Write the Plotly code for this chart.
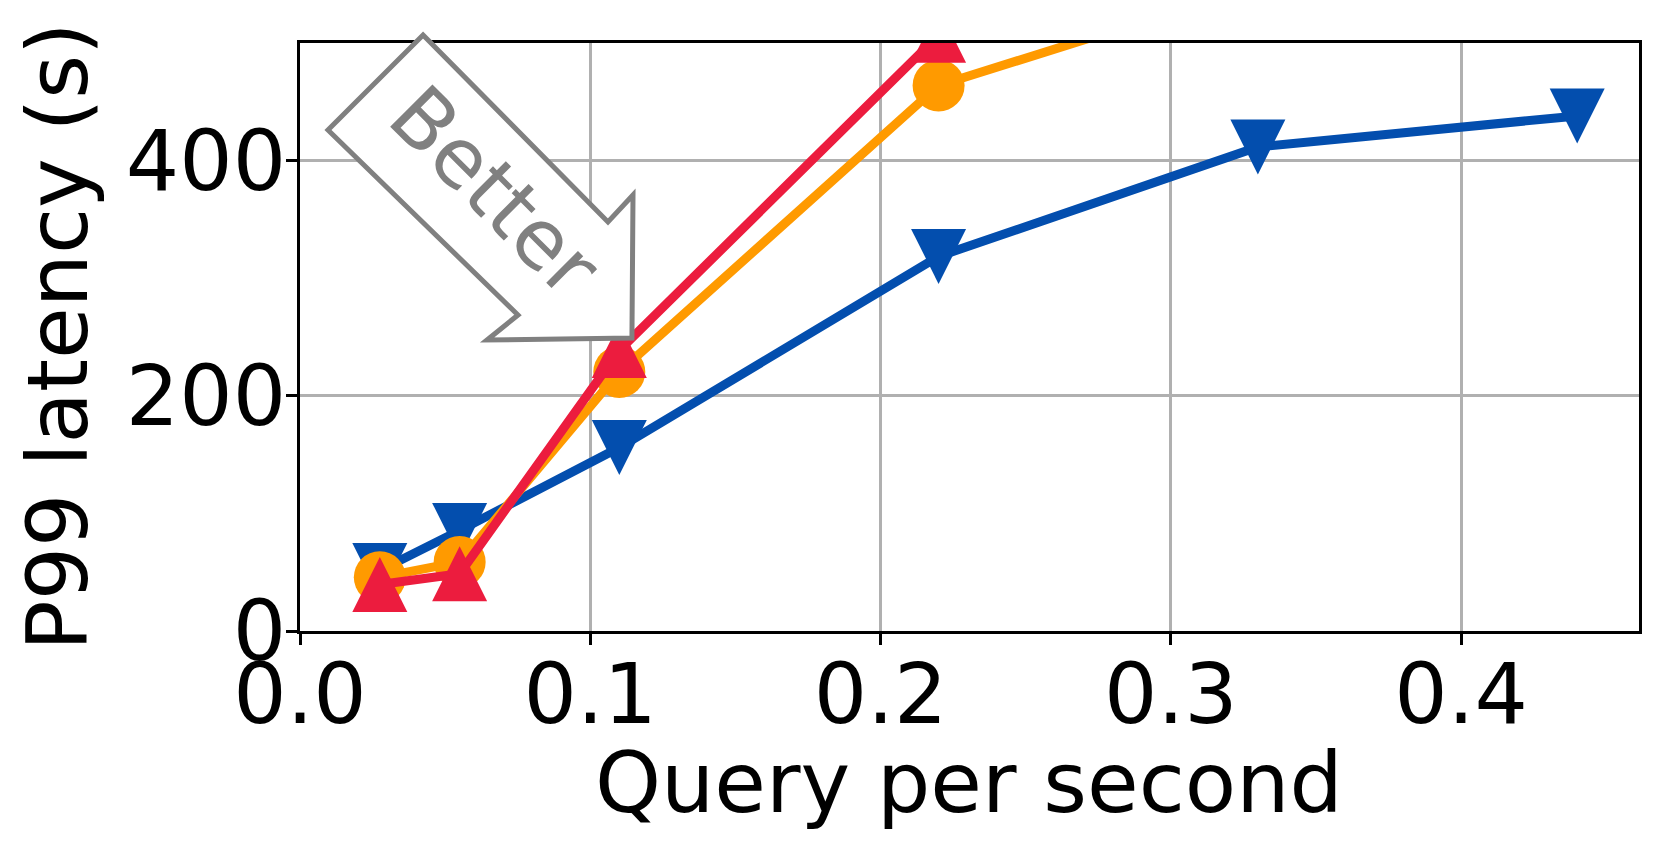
import plotly.graph_objects as go

# query rate (x) for each run
qps = [0.0275, 0.055, 0.11, 0.22, 0.33, 0.44]

# P99 latency in seconds
blue_p99 = [51.5, 85.5, 156, 318.5, 411.6, 438]
orange_qps = [0.0275, 0.055, 0.11, 0.22, 0.33]
orange_p99 = [45.6, 58.7, 220.3, 463.9, 549]
red_qps = [0.0275, 0.055, 0.11, 0.22]
red_p99 = [39.5, 48.7, 238.6, 506.6]

x_ticks = [0.0, 0.1, 0.2, 0.3, 0.4]
y_ticks = [0, 200, 400]

BLUE = "#034EAE"
ORANGE = "#FF9A00"
RED = "#EC1C3E"
FONT = "DejaVu Sans"

# plot area in page pixels
L, R, T, B = 300, 1639, 43, 631
W, H = 1661, 852


def to_paper(px, py):
    return (px - L) / (R - L), (B - py) / (B - T)


fig = go.Figure()

# arrow symbols + standoff give matplotlib-like centred triangles
fig.add_trace(go.Scatter(
    x=qps, y=blue_p99, mode="lines+markers", name="blue",
    line=dict(color=BLUE, width=9, backoff=0),
    marker=dict(symbol="arrow-down", size=55, angle=0, standoff=27.5, color=BLUE),
))
fig.add_trace(go.Scatter(
    x=orange_qps, y=orange_p99, mode="lines+markers", name="orange",
    line=dict(color=ORANGE, width=9, backoff=0),
    marker=dict(symbol="circle", size=52, color=ORANGE),
))
fig.add_trace(go.Scatter(
    x=red_qps, y=red_p99, mode="lines+markers", name="red",
    line=dict(color=RED, width=9, backoff=0),
    marker=dict(symbol="arrow-down", size=55, angle=180, standoff=27.5, color=RED),
))

# "Better" arrow box, rotated 45 degrees (pixel outline -> paper coords)
arrow_px = [(423, 35), (608, 222), (633, 195), (632, 338), (487, 340),
            (518, 315), (328, 130)]
pts = [to_paper(px, py) for px, py in arrow_px]
path = "M " + " L ".join(f"{x:.4f},{y:.4f}" for x, y in pts) + " Z"
fig.add_shape(type="path", path=path, xref="paper", yref="paper",
              line=dict(color="#808080", width=5), fillcolor="white", layer="above")
bx, by = to_paper(494, 191)
fig.add_annotation(x=bx, y=by, xref="paper", yref="paper", text="Better",
                   textangle=45, showarrow=False, xanchor="center", yanchor="middle",
                   font=dict(family=FONT, size=82, color="#808080"))

# axis titles placed as annotations so they sit exactly where the reference has them
tx, ty = to_paper(969, 782.7)
fig.add_annotation(x=tx, y=ty, xref="paper", yref="paper", text="Query per second",
                   showarrow=False, xanchor="center", yanchor="middle",
                   font=dict(family=FONT, size=84, color="black"))
tx, ty = to_paper(58, 337)
fig.add_annotation(x=tx, y=ty, xref="paper", yref="paper", text="P99 latency (s)",
                   textangle=-90, showarrow=False, xanchor="center", yanchor="middle",
                   font=dict(family=FONT, size=84, color="black"))

axis_common = dict(
    showline=True, linecolor="black", linewidth=3, mirror=True,
    showgrid=True, gridcolor="#b0b0b0", gridwidth=2.5,
    ticks="outside", ticklen=11, tickwidth=2.5, tickcolor="black",
    tickfont=dict(family=FONT, size=84, color="black"),
    zeroline=False,
)

fig.update_layout(
    width=W, height=H,
    margin=dict(l=L, r=W - R, t=T, b=H - B),
    paper_bgcolor="white", plot_bgcolor="white",
    showlegend=False,
    xaxis=dict(range=[0, 0.4613], tickvals=x_ticks, tickformat=".1f",
               ticklabelstandoff=-23, **axis_common),
    yaxis=dict(range=[0, 500], tickvals=y_ticks, ticklabelstandoff=-17,
               **axis_common),
)

fig.write_html("out.html", config={"displayModeBar": False},
               post_script="document.body.style.margin = '0';")
